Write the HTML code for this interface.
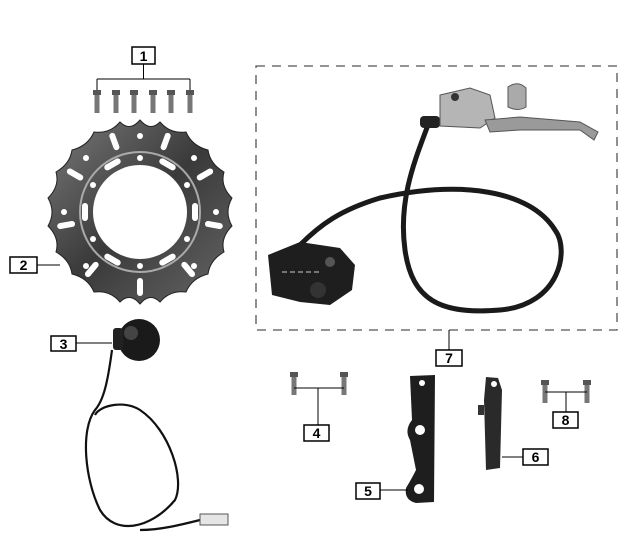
<!DOCTYPE html>
<html><head><style>
html,body{margin:0;padding:0;background:#fff;}
svg{display:block}
text{font-family:"Liberation Sans",sans-serif;font-weight:bold;font-size:14px;}
</style></head><body>
<svg width="634" height="551" viewBox="0 0 634 551" xmlns="http://www.w3.org/2000/svg">
<defs>
<linearGradient id="disc" x1="0" y1="0" x2="1" y2="1">
<stop offset="0" stop-color="#7a7a7a"/><stop offset="0.5" stop-color="#3a3a3a"/><stop offset="1" stop-color="#666"/>
</linearGradient>
<g id="bolt"><rect x="-4" y="0" width="8" height="5" fill="#555"/><rect x="-2.5" y="5" width="5" height="18" fill="#777"/></g>
</defs>

<rect x="132" y="47" width="23" height="17" fill="#fff" stroke="#000" stroke-width="1.5"/>
<text x="143.5" y="61" text-anchor="middle">1</text>
<path d="M143.5 64 V79 M97 79 H190 M97 79 V92 M190 79 V92" stroke="#000" fill="none"/>
<g transform="translate(97,90)"><use href="#bolt"/></g>
<g transform="translate(116,90)"><use href="#bolt"/></g>
<g transform="translate(134,90)"><use href="#bolt"/></g>
<g transform="translate(153,90)"><use href="#bolt"/></g>
<g transform="translate(171,90)"><use href="#bolt"/></g>
<g transform="translate(190,90)"><use href="#bolt"/></g>

<g transform="translate(140,212)">
<path fill="url(#disc)" stroke="#222" d="
M0,-92 Q10,-80 20,-90 Q30,-78 46,-80 Q52,-66 68,-62 Q70,-48 84,-40 Q80,-26 92,-14 Q84,0 92,14 Q80,26 84,40 Q70,48 68,62 Q52,66 46,80 Q30,78 20,90 Q10,80 0,92 Q-10,80 -20,90 Q-30,78 -46,80 Q-52,66 -68,62 Q-70,48 -84,40 Q-80,26 -92,14 Q-84,0 -92,-14 Q-80,-26 -84,-40 Q-70,-48 -68,-62 Q-52,-66 -46,-80 Q-30,-78 -20,-90 Q-10,-80 0,-92 Z"/>
<circle r="60" fill="none" stroke="#aaa" stroke-width="2"/>
<circle r="47" fill="#fff"/>
<g fill="#fff">
<rect x="-3" y="-84" width="6" height="18" rx="3" transform="rotate(20)"/>
<rect x="-3" y="-84" width="6" height="18" rx="3" transform="rotate(-20)"/>
<rect x="-3" y="-84" width="6" height="18" rx="3" transform="rotate(60)"/>
<rect x="-3" y="-84" width="6" height="18" rx="3" transform="rotate(-60)"/>
<rect x="-3" y="-84" width="6" height="18" rx="3" transform="rotate(100)"/>
<rect x="-3" y="-84" width="6" height="18" rx="3" transform="rotate(-100)"/>
<rect x="-3" y="-84" width="6" height="18" rx="3" transform="rotate(140)"/>
<rect x="-3" y="-84" width="6" height="18" rx="3" transform="rotate(-140)"/>
<rect x="-3" y="-84" width="6" height="18" rx="3" transform="rotate(180)"/>
<rect x="-9" y="-58" width="18" height="6" rx="3" transform="rotate(30)"/>
<rect x="-9" y="-58" width="18" height="6" rx="3" transform="rotate(90)"/>
<rect x="-9" y="-58" width="18" height="6" rx="3" transform="rotate(150)"/>
<rect x="-9" y="-58" width="18" height="6" rx="3" transform="rotate(210)"/>
<rect x="-9" y="-58" width="18" height="6" rx="3" transform="rotate(270)"/>
<rect x="-9" y="-58" width="18" height="6" rx="3" transform="rotate(330)"/>
<circle cx="0" cy="-76" r="3"/><circle cx="0" cy="76" r="3"/>
<circle cx="-76" cy="0" r="3"/><circle cx="76" cy="0" r="3"/>
<circle cx="54" cy="-54" r="3"/><circle cx="-54" cy="54" r="3"/>
<circle cx="54" cy="54" r="3"/><circle cx="-54" cy="-54" r="3"/>
<circle cx="0" cy="-54" r="3"/><circle cx="0" cy="54" r="3"/>
<circle cx="-47" cy="-27" r="3"/><circle cx="47" cy="27" r="3"/>
<circle cx="-47" cy="27" r="3"/><circle cx="47" cy="-27" r="3"/>
</g>
</g>
<rect x="10" y="257" width="27" height="16" fill="#fff" stroke="#000" stroke-width="1.5"/>
<text x="23.5" y="270" text-anchor="middle">2</text>
<line x1="37" y1="265" x2="60" y2="265" stroke="#000"/>

<rect x="256" y="66" width="361" height="264" fill="none" stroke="#555" stroke-width="1.3" stroke-dasharray="9,7"/>
<line x1="449" y1="330" x2="449" y2="350" stroke="#000"/>
<rect x="436" y="350" width="26" height="16" fill="#fff" stroke="#000" stroke-width="1.5"/>
<text x="449" y="363" text-anchor="middle">7</text>
<path d="M428 125 C415 160 398 200 405 250 C412 300 440 315 500 310 C560 305 570 250 555 230 C530 190 460 180 380 198 C340 210 320 225 300 245" stroke="#1a1a1a" stroke-width="5" fill="none"/>
<rect x="420" y="116" width="20" height="12" rx="4" fill="#222"/>
<path d="M440 95 L470 88 L490 95 L495 118 L480 128 L440 126 Z" fill="#b5b5b5" stroke="#555"/>
<path d="M485 120 L520 117 L580 122 L598 132 L594 140 L580 130 L520 130 L490 132 Z" fill="#9a9a9a" stroke="#555"/>
<circle cx="455" cy="97" r="4" fill="#333"/>
<path d="M508 87 Q518 80 526 88 L526 107 Q518 112 508 107 Z" fill="#aaa" stroke="#555"/>
<path d="M268 255 L300 242 L340 248 L355 265 L352 290 L330 305 L300 302 L272 295 Z" fill="#1e1e1e"/>
<circle cx="330" cy="262" r="5" fill="#555"/>
<circle cx="318" cy="290" r="8" fill="#333"/>
<line x1="282" y1="272" x2="320" y2="272" stroke="#ccc" stroke-dasharray="5,3"/>

<circle cx="139" cy="340" r="21" fill="#1a1a1a"/>
<circle cx="131" cy="333" r="7" fill="#444"/>
<rect x="113" y="328" width="10" height="22" rx="3" fill="#222"/>
<rect x="51" y="336" width="25" height="15" fill="#fff" stroke="#000" stroke-width="1.5"/>
<text x="63.5" y="349" text-anchor="middle">3</text>
<line x1="76" y1="343" x2="112" y2="343" stroke="#000"/>
<path d="M112 350 C108 380 104 400 95 410 C80 430 85 480 100 510 C115 535 150 530 175 500 C185 480 170 430 140 410 C125 400 100 405 95 415 M140 530 C160 530 180 525 200 520" stroke="#111" stroke-width="2.2" fill="none"/>
<rect x="200" y="514" width="28" height="11" fill="#e5e5e5" stroke="#555"/>

<g transform="translate(294,372)"><use href="#bolt"/></g>
<g transform="translate(344,372)"><use href="#bolt"/></g>
<path d="M294 388 H344 M318 388 V425" stroke="#000" fill="none"/>
<rect x="304" y="425" width="25" height="16" fill="#fff" stroke="#000" stroke-width="1.5"/>
<text x="316.5" y="438" text-anchor="middle">4</text>

<path d="M410 376 L435 375 L434 502 L416 503 Q404 500 406 488 Q412 478 416 470 L410 440 Q404 430 412 420 Z" fill="#1e1e1e"/>
<circle cx="422" cy="383" r="3" fill="#fff"/>
<circle cx="420" cy="430" r="5" fill="#fff"/>
<circle cx="419" cy="489" r="5" fill="#fff"/>
<rect x="356" y="483" width="24" height="16" fill="#fff" stroke="#000" stroke-width="1.5"/>
<text x="368" y="496" text-anchor="middle">5</text>
<line x1="380" y1="490" x2="408" y2="490" stroke="#000"/>

<path d="M486 377 L498 378 L502 390 L500 468 L486 470 L484 400 Z" fill="#2a2a2a"/>
<circle cx="494" cy="384" r="3" fill="#fff"/>
<rect x="478" y="405" width="6" height="10" fill="#333"/>
<rect x="523" y="449" width="25" height="16" fill="#fff" stroke="#000" stroke-width="1.5"/>
<text x="535.5" y="462" text-anchor="middle">6</text>
<line x1="502" y1="457" x2="523" y2="457" stroke="#000"/>

<g transform="translate(545,380)"><use href="#bolt"/></g>
<g transform="translate(587,380)"><use href="#bolt"/></g>
<path d="M545 392 H587 M566 392 V412" stroke="#000" fill="none"/>
<rect x="553" y="412" width="25" height="16" fill="#fff" stroke="#000" stroke-width="1.5"/>
<text x="565.5" y="425" text-anchor="middle">8</text>
</svg>
</body></html>
